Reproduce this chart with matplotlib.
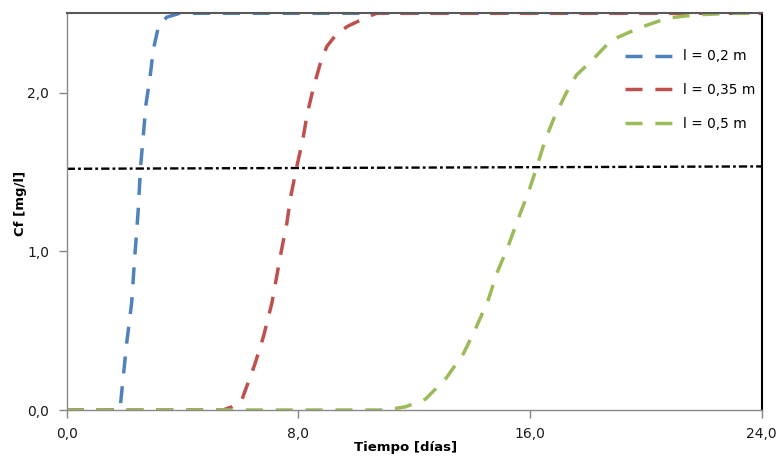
import matplotlib
matplotlib.use("Agg")
import matplotlib.pyplot as plt

# Concentración de salida Cf frente al tiempo para tres longitudes de lecho
t_02 = [0, 1.82, 1.86, 2.07, 2.24, 2.36, 2.47, 2.55, 2.65, 2.74, 2.88, 2.99, 3.16, 3.45, 3.9, 24]
cf_02 = [0, 0, 0.04, 0.42, 0.67, 0.99, 1.26, 1.53, 1.74, 1.93, 2.10, 2.27, 2.41, 2.475, 2.5, 2.5]

t_035 = [0, 5.4, 5.7, 6.04, 6.50, 6.79, 7.08, 7.25, 7.42, 7.60, 7.73, 7.94, 8.15, 8.31,
         8.52, 8.75, 8.98, 9.32, 9.72, 10.24, 10.7, 24]
cf_035 = [0, 0, 0.02, 0.06, 0.29, 0.46, 0.67, 0.84, 1.01, 1.175, 1.34, 1.53, 1.70, 1.87,
          2.03, 2.18, 2.29, 2.37, 2.42, 2.465, 2.5, 2.5]

t_05 = [0, 11.0, 11.7, 12.4, 13.1, 13.7, 14.15, 14.55, 14.85, 15.25, 15.57, 15.97, 16.23,
        16.52, 16.84, 17.24, 17.6, 18.15, 18.8, 19.8, 20.75, 21.7, 23.0, 24]
cf_05 = [0, 0, 0.02, 0.07, 0.20, 0.355, 0.525, 0.69, 0.86, 1.035, 1.195, 1.385, 1.53,
         1.70, 1.845, 1.995, 2.11, 2.205, 2.33, 2.41, 2.47, 2.49, 2.5, 2.5]

# Nivel de referencia (línea punto-raya)
t_ref = [0, 24]
cf_ref = [1.52, 1.535]

series = [
    (t_02, cf_02, "l = 0,2 m", "#4F81BD"),
    (t_035, cf_035, "l = 0,35 m", "#C0504D"),
    (t_05, cf_05, "l = 0,5 m", "#9BBB59"),
]

x_ticks = [0, 8, 16, 24]
y_ticks = [0, 1, 2]

fig = plt.figure(figsize=(7.81, 4.58), dpi=100)
ax = fig.add_axes([0.0854, 0.1048, 0.8899, 0.8662])

ax.plot(t_ref, cf_ref, color="black", lw=1.7, dashes=(3.5, 1.3, 1.2, 1.3))

for t, cf, label, color in series:
    ax.plot(t, cf, color=color, lw=2.5, dashes=(4.9, 3.7), label=label,
            solid_capstyle="butt", dash_capstyle="butt")

ax.set_xlim(0, 24)
ax.set_ylim(0, 2.5)
ax.set_xticks(x_ticks)
ax.set_yticks(y_ticks)
ax.set_xticklabels([f"{v:.1f}".replace(".", ",") for v in x_ticks])
ax.set_yticklabels([f"{v:.1f}".replace(".", ",") for v in y_ticks])
ax.tick_params(axis="both", direction="out", length=5.5, width=1, color="#868686",
               labelsize=10, labelcolor="#1a1a1a", pad=7)

for side in ["left", "bottom"]:
    ax.spines[side].set_color("#898989")
    ax.spines[side].set_linewidth(1.0)
ax.spines["top"].set_color("#595959")
ax.spines["top"].set_linewidth(1.5)
ax.spines["right"].set_color("black")
ax.spines["right"].set_linewidth(1.5)

ax.set_xlabel("Tiempo [días]", fontsize=9.5, fontweight="bold")
ax.set_ylabel("Cf [mg/l]", fontsize=9.5, fontweight="bold")
ax.xaxis.set_label_coords(0.488, -0.078)
ax.yaxis.set_label_coords(-0.057, 0.52)

ax.legend(loc="upper left", bbox_to_anchor=(0.803, 0.909), frameon=False,
          fontsize=9.8, handlelength=3.5, handletextpad=0.75, labelspacing=1.45,
          borderpad=0, borderaxespad=0)

fig.savefig("out.png", dpi=100)
